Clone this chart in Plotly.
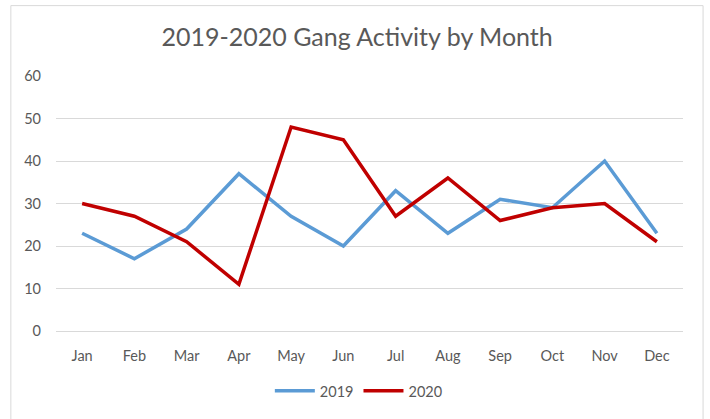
import plotly.graph_objects as go

months = ["Jan", "Feb", "Mar", "Apr", "May", "Jun", "Jul", "Aug", "Sep", "Oct", "Nov", "Dec"]
activity_2019 = [23, 17, 24, 37, 27, 20, 33, 23, 31, 29, 40, 23]
activity_2020 = [30, 27, 21, 11, 48, 45, 27, 36, 26, 29, 30, 21]
y_ticks = [0, 10, 20, 30, 40, 50, 60]

text_color = "#595959"
grid_color = "#D9D9D9"
font_family = "Lato, 'Open Sans', sans-serif"

fig = go.Figure()
fig.add_trace(go.Scatter(x=months, y=activity_2019, name="2019", mode="lines",
                         line=dict(color="#5B9BD5", width=3.5)))
fig.add_trace(go.Scatter(x=months, y=activity_2020, name="2020", mode="lines",
                         line=dict(color="#C00000", width=3.5)))

fig.update_layout(
    width=710, height=419,
    margin=dict(l=56, r=27, t=76, b=85),
    paper_bgcolor="white", plot_bgcolor="white",
    font=dict(family=font_family, color=text_color, size=14.5),
    title=dict(text="2019-2020 Gang Activity by Month", x=0.503, xanchor="center",
               y=0.91, yanchor="middle", font=dict(size=25, color=text_color)),
    xaxis=dict(type="category", range=[-0.5, 11.5], showgrid=False, showline=False,
               ticks="", ticklabelstandoff=14,
               tickfont=dict(size=14.5, color=text_color), fixedrange=True),
    yaxis=dict(range=[0, 60], tickvals=y_ticks, showgrid=True, gridcolor=grid_color,
               gridwidth=1, zeroline=True, zerolinecolor=grid_color, zerolinewidth=1,
               showline=False, ticks="", ticklabelstandoff=14,
               tickfont=dict(size=14.5, color=text_color), fixedrange=True),
    legend=dict(orientation="h", x=0.483, xanchor="center", y=-0.235, yanchor="middle",
                font=dict(size=14.5, color=text_color), itemwidth=40,
                bgcolor="rgba(0,0,0,0)"),
    shapes=[dict(type="rect", xref="paper", yref="paper",
                 x0=-0.072, x1=1.032, y0=-0.36, y1=1.276,
                 line=dict(color="#D9D9D9", width=1), fillcolor="rgba(0,0,0,0)",
                 layer="below")],
)

fig.write_html("out.html")
